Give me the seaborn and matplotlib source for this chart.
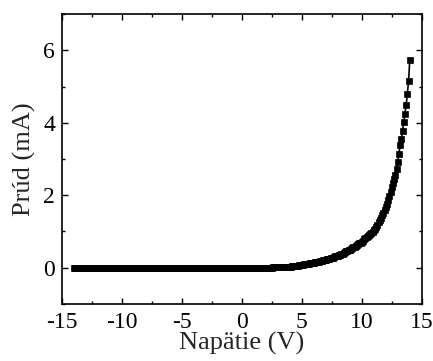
"""
I-V characteristic (Prud vs Napatie) redrawn with seaborn
"""
import numpy as np
import pandas as pd
import matplotlib
matplotlib.use('Agg')
import matplotlib.pyplot as plt
from matplotlib.ticker import MultipleLocator
import seaborn as sns

# Voltage sweep, 0.1 V step from -14 V to +14 V
voltage = np.round(np.linspace(-14.0, 14.0, 281), 1)

# Current (mA), one row = 1 V
current = [
    # -14 .. -8.1
    0.00, 0.00, 0.00, 0.00, 0.00, 0.00, 0.00, 0.00, 0.00, 0.00,
    0.00, 0.00, 0.00, 0.00, 0.00, 0.00, 0.00, 0.00, 0.00, 0.00,
    0.00, 0.00, 0.00, 0.00, 0.00, 0.00, 0.00, 0.00, 0.00, 0.00,
    0.00, 0.00, 0.00, 0.00, 0.00, 0.00, 0.00, 0.00, 0.00, 0.00,
    0.00, 0.00, 0.00, 0.00, 0.00, 0.00, 0.00, 0.00, 0.00, 0.00,
    0.00, 0.00, 0.00, 0.00, 0.00, 0.00, 0.00, 0.00, 0.00, -0.01,
    # -8 .. -4.1
    -0.02, -0.02, -0.02, -0.02, -0.02, -0.02, -0.02, -0.02, -0.02, -0.02,
    -0.02, -0.02, -0.02, -0.02, -0.02, -0.02, -0.01, -0.01, -0.01, -0.01,
    -0.01, -0.01, -0.01, -0.01, -0.01, -0.01, -0.01, -0.01, -0.01, -0.01,
    -0.01, -0.01, -0.01, -0.01, -0.01, -0.01, 0.00, 0.00, 0.00, 0.00,
    # -4 .. 1.9
    0.00, 0.00, 0.00, 0.00, 0.00, 0.00, 0.00, 0.00, 0.00, 0.00,
    0.00, 0.00, 0.00, 0.00, 0.00, 0.00, 0.00, 0.00, 0.00, 0.00,
    0.00, 0.00, 0.00, 0.00, 0.00, 0.00, 0.00, 0.00, 0.00, 0.00,
    0.00, 0.00, 0.00, 0.00, 0.00, 0.00, 0.00, 0.00, 0.00, 0.00,
    0.00, 0.00, 0.00, 0.00, 0.00, 0.00, 0.00, 0.00, 0.00, 0.00,
    0.00, 0.00, 0.00, 0.00, 0.00, 0.00, 0.00, 0.00, 0.00, 0.00,
    # 2 .. 13.9
    0.00, 0.00, 0.00, 0.00, 0.00, 0.00, 0.01, 0.01, 0.01, 0.01,
    0.01, 0.01, 0.01, 0.02, 0.02, 0.02, 0.02, 0.02, 0.03, 0.03,
    0.03, 0.03, 0.04, 0.04, 0.05, 0.05, 0.06, 0.06, 0.07, 0.07,
    0.08, 0.08, 0.09, 0.09, 0.10, 0.11, 0.11, 0.12, 0.13, 0.13,
    0.14, 0.15, 0.15, 0.16, 0.17, 0.18, 0.19, 0.19, 0.20, 0.21,
    0.22, 0.23, 0.24, 0.25, 0.26, 0.27, 0.28, 0.29, 0.31, 0.32,
    0.33, 0.35, 0.36, 0.38, 0.39, 0.41, 0.43, 0.45, 0.46, 0.48,
    0.50, 0.52, 0.54, 0.56, 0.58, 0.60, 0.62, 0.65, 0.67, 0.69,
    0.72, 0.75, 0.78, 0.81, 0.84, 0.87, 0.90, 0.93, 0.96, 0.99,
    1.03, 1.08, 1.13, 1.19, 1.25, 1.31, 1.38, 1.45, 1.52, 1.60,
    1.68, 1.76, 1.86, 1.98, 2.10, 2.22, 2.34, 2.45, 2.57, 2.72,
    2.92, 3.15, 3.38, 3.55, 3.78, 4.03, 4.25, 4.49, 4.80, 5.15,
    # 14
    5.72,
]

x_ticks = [-15, -10, -5, 0, 5, 10, 15]
y_ticks = [0, 2, 4, 6]

df = pd.DataFrame({'Napatie': voltage, 'Prud': current})

sns.set_style('ticks')
plt.rcParams['font.family'] = ['Liberation Serif', 'DejaVu Serif']

fig = plt.figure(figsize=(4.33, 3.61), dpi=100)
ax = fig.add_axes([0.143, 0.158, 0.831, 0.803])

sns.lineplot(data=df, x='Napatie', y='Prud', ax=ax, color='black',
             linewidth=1.2, marker='s', markersize=4.0,
             markeredgecolor='black', markerfacecolor='black',
             markeredgewidth=0.5, sort=False)

ax.set_xlim(-15, 15)
ax.set_ylim(-1, 7)
ax.set_xticks(x_ticks)
ax.set_yticks(y_ticks)
ax.set_xticklabels([str(t) for t in x_ticks])
ax.set_yticklabels([str(t) for t in y_ticks])
ax.xaxis.set_minor_locator(MultipleLocator(2.5))
ax.yaxis.set_minor_locator(MultipleLocator(1))

ax.tick_params(which='both', direction='in', top=True, right=True,
               width=1.0, colors='black', labelsize=17)
ax.tick_params(which='major', length=4.5)
ax.tick_params(which='minor', length=2.5)
ax.tick_params(axis='x', which='major', pad=6)
ax.tick_params(axis='y', which='major', pad=5)

for sp in ax.spines.values():
    sp.set_linewidth(1.2)
    sp.set_color('black')

ax.set_xlabel('Napätie (V)', fontsize=19, labelpad=-1)
ax.set_ylabel('Prúd (mA)', fontsize=19, labelpad=5)

plt.savefig('out.png', dpi=100)
plt.close()
